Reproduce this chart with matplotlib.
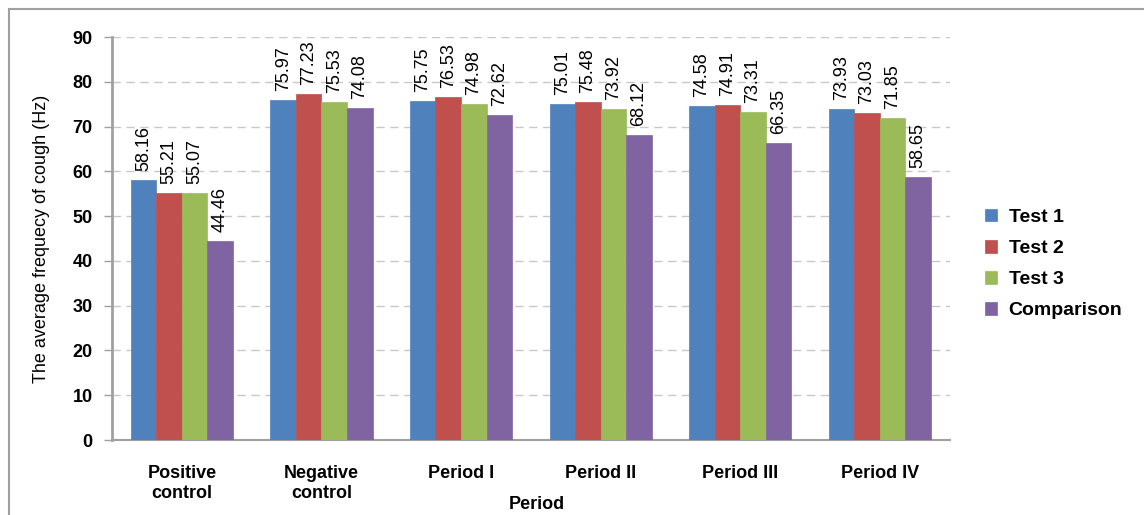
import matplotlib
matplotlib.use("Agg")
import matplotlib.pyplot as plt
import numpy as np
from matplotlib.patches import Rectangle

categories = ["Positive\ncontrol", "Negative\ncontrol", "Period I", "Period II", "Period III", "Period IV"]
series_names = ["Test 1", "Test 2", "Test 3", "Comparison"]
test1 = [58.16, 75.97, 75.75, 75.01, 74.58, 73.93]
test2 = [55.21, 77.23, 76.53, 75.48, 74.91, 73.03]
test3 = [55.07, 75.53, 74.98, 73.92, 73.31, 71.85]
comparison = [44.46, 74.08, 72.62, 68.12, 66.35, 58.65]
colors = ["#4F81BD", "#C0504D", "#9BBB59", "#8064A2"]

plt.rcParams['font.family'] = ['Liberation Sans', 'DejaVu Sans']

fig = plt.figure(figsize=(11.44, 5.15), dpi=100)
ax = fig.add_axes([0.098, 0.1456, 0.732, 0.7825])

x = np.arange(len(categories))
w = 0.183
for i, (vals, name, c) in enumerate(zip([test1, test2, test3, comparison], series_names, colors)):
    pos = x + (i - 1.5) * w
    ax.bar(pos, vals, width=w, color=c, label=name, zorder=3, edgecolor=c, linewidth=0.5)
    for px, v in zip(pos, vals):
        ax.text(px, v + 2.0, f"{v:.2f}", rotation=90, ha='center', va='bottom', fontsize=13, zorder=4)

ax.set_xlim(-0.5, len(categories) - 0.5)
ax.set_ylim(0, 90)
ax.set_yticks(range(0, 91, 10))
ax.set_yticklabels([str(v) for v in range(0, 91, 10)], fontsize=13, fontweight='bold')
ax.set_xticks(x)
ax.set_xticklabels(categories, fontsize=13, fontweight='bold', linespacing=1.25)
ax.tick_params(axis='x', length=0, pad=18)
ax.tick_params(axis='y', length=6, color='#A0A0A0', width=1, pad=8)
ax.yaxis.grid(True, linestyle=(0, (6, 4)), color='#C8C8C8', linewidth=1, zorder=0)
for s in ['top', 'right']:
    ax.spines[s].set_visible(False)
ax.spines['left'].set_color('#A0A0A0')
ax.spines['left'].set_linewidth(2)
ax.spines['bottom'].set_color('#A0A0A0')
ax.spines['bottom'].set_linewidth(1.5)

ax.set_ylabel("The average frequecy of cough (Hz)", fontsize=13, labelpad=16)
fig.text(537 / 1144, 0.004, "Period", ha='center', va='bottom', fontsize=13, fontweight='bold')

leg = fig.legend(loc='center left', bbox_to_anchor=(0.846, 0.487), frameon=False,
                 prop={'weight': 'bold', 'size': 14}, handlelength=0.6, handleheight=0.6,
                 labelspacing=0.72, handletextpad=0.6)

fig.patches.append(Rectangle((9 / 1144, -0.1), 1.2, 1 - 9 / 515 + 0.1, transform=fig.transFigure,
                             fill=False, edgecolor='#A0A0A0', linewidth=1.5, zorder=0))

fig.savefig("out.png", dpi=100)
